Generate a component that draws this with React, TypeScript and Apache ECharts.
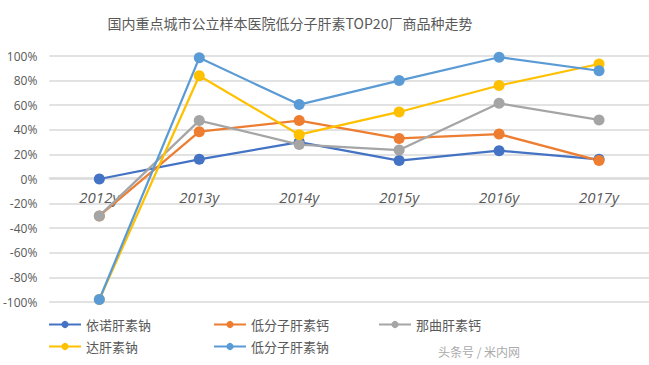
import React, { useEffect, useRef } from "react";
import * as echarts from "echarts";

const categories = ["2012y", "2013y", "2014y", "2015y", "2016y", "2017y"];
const seriesNames = ["依诺肝素钠", "低分子肝素钙", "那曲肝素钙", "达肝素钠", "低分子肝素钠"];
const enoxaparin = [0, 16, 30, 15, 23, 16];
const lmwhCalcium = [-30, 38.5, 47.5, 33, 36.5, 15];
const nadroparin = [-30, 47.5, 28, 23.5, 61.5, 48];
const dalteparin = [-98, 84, 36, 54.5, 76, 93.5];
const lmwhSodium = [-98, 98.5, 60.5, 80, 99, 88];
const seriesValues = [enoxaparin, lmwhCalcium, nadroparin, dalteparin, lmwhSodium];
const colors = ["#4472C4", "#ED7D31", "#A5A5A5", "#FFC000", "#5B9BD5"];
const legendPos = [
  { left: 43, top: 313 },
  { left: 208, top: 313 },
  { left: 373, top: 313 },
  { left: 43, top: 335 },
  { left: 208, top: 335 },
];

export default function App() {
  const ref = useRef<HTMLDivElement>(null);
  useEffect(() => {
    const chart = echarts.init(ref.current!, null, { renderer: "svg" });
    const font = "'Noto Sans CJK SC', 'Noto Sans', sans-serif";
    chart.setOption({
      animation: false,
      backgroundColor: "#ffffff",
      title: {
        text: "国内重点城市公立样本医院低分子肝素TOP20厂商品种走势",
        left: 285,
        textAlign: "center",
        top: 11,
        textStyle: { fontSize: 14, fontWeight: "normal", color: "#595959", fontFamily: font },
      },
      graphic: [
        {
          type: "text",
          left: 438,
          top: 345,
          style: { text: "头条号 / 米内网", fontSize: 12, fill: "#aaaaaa", fontFamily: font },
        },
      ],
      legend: seriesNames.map((n, i) => ({
        data: [n],
        left: legendPos[i].left,
        top: legendPos[i].top,
        itemWidth: 32,
        itemHeight: 9,
        itemGap: 5,
        textStyle: { fontSize: 13, color: "#595959", fontFamily: font },
      })),
      grid: { left: 47, top: 56, width: 606, height: 246, containLabel: false },
      xAxis: {
        type: "category",
        data: categories,
        boundaryGap: true,
        position: "bottom",
        offset: -124,
        axisLine: { show: true, onZero: false, lineStyle: { color: "#d9d9d9", width: 1.5 } },
        axisTick: { show: false },
        axisLabel: {
          fontSize: 15,
          fontStyle: "italic",
          color: "#595959",
          margin: 11,
          fontFamily: "'Open Sans', sans-serif",
        },
      },
      yAxis: {
        type: "value",
        min: -100,
        max: 100,
        interval: 20,
        axisLine: { show: false },
        axisTick: { show: false },
        splitLine: { lineStyle: { color: "#d9d9d9", width: 1.5 } },
        axisLabel: {
          formatter: "{value}%",
          fontSize: 12,
          color: "#595959",
          margin: 12,
          fontFamily: "'Open Sans', sans-serif",
        },
      },
      series: seriesNames.map((n, i) => ({
        name: n,
        type: "line",
        data: seriesValues[i],
        symbol: "circle",
        symbolSize: 11,
        itemStyle: { color: colors[i] },
        lineStyle: { color: colors[i], width: 2.25 },
      })),
    });
    return () => chart.dispose();
  }, []);
  return (
    <div
      ref={ref}
      style={{ position: "absolute", left: 0, top: 0, width: 649, height: 365 }}
    />
  );
}
